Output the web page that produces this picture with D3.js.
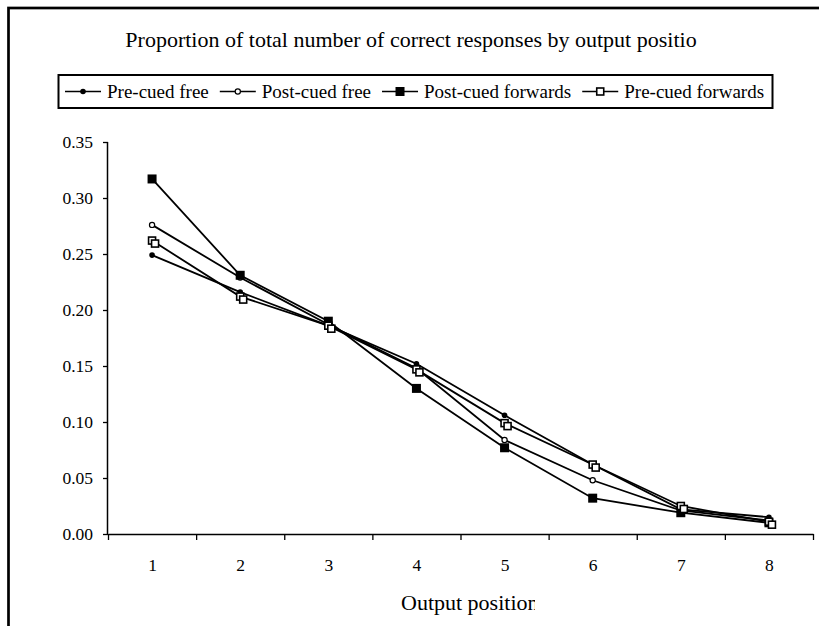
<!DOCTYPE html>
<html>
<head>
<meta charset="utf-8">
<script src="https://cdn.jsdelivr.net/npm/d3@7"></script>
<style>
  html, body { margin: 0; padding: 0; background: #fff; }
  svg { display: block; }
  text { font-family: "Liberation Serif", "Times New Roman", serif; fill: #000; }
</style>
</head>
<body>
<svg id="chart" width="819" height="626"></svg>
<script>
// ---- data ----
const positions = [1, 2, 3, 4, 5, 6, 7, 8];
const seriesNames = ["Pre-cued free", "Post-cued free", "Post-cued forwards", "Pre-cued forwards"];
const preCuedFree      = [0.249, 0.216, 0.186, 0.152, 0.106, 0.062, 0.022, 0.015];
const postCuedFree     = [0.276, 0.229, 0.187, 0.148, 0.084, 0.048, 0.021, 0.012];
const postCuedForwards = [0.317, 0.231, 0.190, 0.130, 0.077, 0.032, 0.019, 0.010];
const preCuedForwards  = [0.262, 0.212, 0.186, 0.147, 0.099, 0.062, 0.025, 0.011];
const yTicks = [0, 0.05, 0.10, 0.15, 0.20, 0.25, 0.30, 0.35];
const titleText = "Proportion of total number of correct responses by output positio";
const xAxisTitle = "Output position";

const seriesValues = [preCuedFree, postCuedFree, postCuedForwards, preCuedForwards];
const markerTypes = ["dot", "circle", "filledSquare", "openSquare"];

const svg = d3.select("#chart");

// outer frame (extends past right/bottom edge like the source)
svg.append("rect").attr("x", 8.5).attr("y", 8).attr("width", 1000).attr("height", 1000)
  .attr("fill", "none").attr("stroke", "#000").attr("stroke-width", 2.7);

// scales
const x = d3.scaleLinear().domain([0.5, 8.5]).range([108, 813]);
const y = d3.scaleLinear().domain([0, 0.35]).range([534, 142]);

// title
svg.append("text").attr("x", 411).attr("y", 47).attr("text-anchor", "middle")
  .style("font-size", "22px").text(titleText);

// axes
const yAxis = d3.axisLeft(y).tickValues(yTicks).tickFormat(d3.format(".2f"))
  .tickSize(5).tickPadding(10);
const gy = svg.append("g").attr("transform", "translate(108,0)").call(yAxis);
gy.select(".domain").attr("d", `M-0.5,${y(0.35)}V${y(0)}`).attr("stroke-width", 1.5);
gy.selectAll(".tick line").attr("stroke-width", 1.3);
gy.selectAll("text").style("font-size", "17.5px").style("font-family", "Liberation Serif");

const boundaries = d3.range(0.5, 8.6, 1);
const xAxisTicks = d3.axisBottom(x).tickValues(boundaries).tickFormat("").tickSize(6).tickSizeOuter(0);
const gx = svg.append("g").attr("transform", `translate(0,${y(0)})`).call(xAxisTicks);
gx.select(".domain").attr("stroke-width", 1.5);
gx.selectAll(".tick line").attr("stroke-width", 1.3);

const xLabels = d3.axisBottom(x).tickValues(positions).tickFormat(d3.format("d")).tickSize(0).tickPadding(25);
const gxl = svg.append("g").attr("transform", `translate(0,${y(0)})`).call(xLabels);
gxl.select(".domain").remove();
gxl.selectAll("text").style("font-size", "17.5px").style("font-family", "Liberation Serif");

// x axis title (clipped at the right like the source)
svg.append("clipPath").attr("id", "xtclip").append("rect")
  .attr("x", 0).attr("y", 0).attr("width", 535).attr("height", 626);
svg.append("text").attr("x", 401).attr("y", 610).attr("text-anchor", "start")
  .attr("clip-path", "url(#xtclip)")
  .style("font-size", "22px").text(xAxisTitle);

// markers
function drawMarker(g, type, cx, cy) {
  if (type === "dot") {
    g.append("circle").attr("cx", cx).attr("cy", cy).attr("r", 2.8).attr("fill", "#000");
  } else if (type === "circle") {
    g.append("circle").attr("cx", cx).attr("cy", cy).attr("r", 2.6)
      .attr("fill", "#fff").attr("stroke", "#000").attr("stroke-width", 1.2);
  } else if (type === "filledSquare") {
    g.append("rect").attr("x", cx - 4.5).attr("y", cy - 4.5).attr("width", 9).attr("height", 9)
      .attr("fill", "#000");
  } else if (type === "openSquare") {
    g.append("rect").attr("x", cx - 3.5).attr("y", cy - 3.5).attr("width", 7).attr("height", 7)
      .attr("fill", "#fff").attr("stroke", "#000").attr("stroke-width", 1.6);
  }
}

const line = d3.line().x((d, i) => x(positions[i])).y(d => y(d));
seriesValues.forEach((vals, si) => {
  const g = svg.append("g");
  g.append("path").datum(vals).attr("d", line)
    .attr("fill", "none").attr("stroke", "#000").attr("stroke-width", 1.8);
});
seriesValues.forEach((vals, si) => {
  const g = svg.append("g");
  vals.forEach((v, i) => {
    drawMarker(g, markerTypes[si], x(positions[i]), y(v));
    if (markerTypes[si] === "openSquare") drawMarker(g, "openSquare", x(positions[i]) + 3, y(v) + 3);
  });
});

// legend
const legend = svg.append("g");
legend.append("rect").attr("x", 58.5).attr("y", 75).attr("width", 714).attr("height", 33)
  .attr("fill", "#fff").attr("stroke", "#000").attr("stroke-width", 2);
let lx = 65;
const ly = 91.5;
seriesNames.forEach((name, si) => {
  legend.append("line").attr("x1", lx).attr("x2", lx + 36).attr("y1", ly).attr("y2", ly)
    .attr("stroke", "#000").attr("stroke-width", 1.6);
  drawMarker(legend, markerTypes[si], lx + 18, ly);
  const t = legend.append("text").attr("x", lx + 42).attr("y", ly + 6.5)
    .style("font-size", "19px").text(name);
  lx = lx + 42 + t.node().getComputedTextLength() + 11;
});
</script>
</body>
</html>
